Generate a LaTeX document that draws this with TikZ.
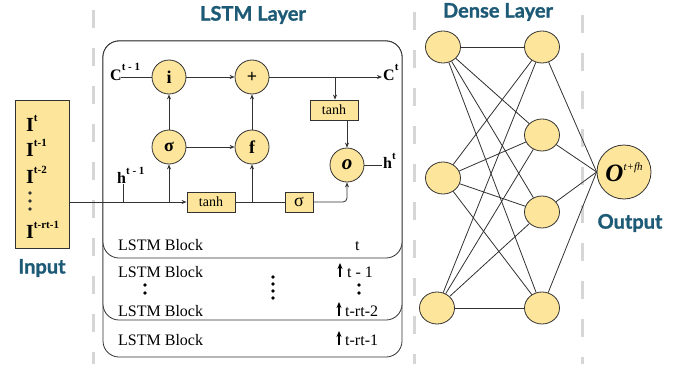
\documentclass[tikz,border=0pt]{standalone}
\usepackage{fontspec}
\setmainfont{Liberation Serif}
\newfontfamily\hdfont{Lato}[BoldFeatures={FakeBold=1.2}]
\usetikzlibrary{arrows.meta,shapes.geometric}
\definecolor{ylw}{RGB}{253,229,155}
\definecolor{tealx}{RGB}{28,90,118}
\definecolor{dgr}{RGB}{50,50,50}
\newcommand\mysup[2][9pt]{\raisebox{#1}{\fontsize{11}{11}\selectfont\bfseries #2}}
\begin{document}
\begin{tikzpicture}[x=1pt,y=-1pt,
  gl/.style={line width=3pt, draw=black!16, dash pattern=on 18pt off 20pt},
  cir/.style={circle, draw=dgr, fill=ylw, line width=0.8pt, minimum size=34pt, inner sep=0pt, font=\fontsize{18}{18}\selectfont\bfseries},
  bx/.style={rectangle, draw=dgr, fill=ylw, line width=0.8pt, minimum height=20pt, inner sep=0pt, font=\fontsize{14}{14}\selectfont},
  arr/.style={-{Stealth[length=5pt,width=4pt]}, line width=0.8pt, draw=dgr},
  arrb/.style={-{Stealth[length=6pt,width=5pt]}, line width=1.3pt, draw=black},
  ln/.style={line width=0.8pt, draw=dgr},
  blk/.style={draw=dgr, line width=0.8pt, fill=white, rounded corners=16pt},
  hd/.style={font=\hdfont\fontsize{20}{20}\selectfont\bfseries, text=tealx},
  bt/.style={font=\fontsize{16}{16}\selectfont, anchor=base west, inner sep=0pt},
  lbl/.style={font=\fontsize{16}{16}\selectfont\bfseries, anchor=base west, inner sep=1pt},
  itx/.style={font=\fontsize{20}{20}\selectfont\bfseries, anchor=base west, inner sep=0pt},
  neu/.style={ellipse, draw=dgr, fill=ylw, line width=0.8pt, minimum width=35pt, minimum height=32pt, inner sep=0pt},
  nl/.style={line width=0.8pt, draw=dgr}
]
\useasboundingbox (0,0) rectangle (693,364);
\fill[white] (0,0) rectangle (693,364);

% dashed separators
\draw[gl] (93,10) -- (93,364);
\draw[gl] (414,12) -- (414,364);
\draw[gl] (582,15) -- (582,364);

% titles
\node[hd] (tl) at (253,15) {LSTM Layer};
\node[hd] (td) at (498,12) {Dense Layer};
\node[hd] (ti) at (42,268) {Input};
\node[hd] (to) at (630,223) {Output};

% input box
\node[draw=dgr, fill=ylw, line width=0.9pt, minimum width=54pt, minimum height=148pt, inner sep=0pt] (inp) at (42,174) {};
\node[itx] (i0) at (26,131) {I\mysup[10pt]{t}};
\node[itx] (i1) at (26,156) {I\mysup[10pt]{t-1}};
\node[itx] (i2) at (26,183) {I\mysup[10pt]{t-2}};
\fill[dgr] (30,193) circle (1.9) (30,201) circle (1.9) (30,209) circle (1.9);
\node[itx] (i3) at (26,238) {I\mysup[10pt]{t-rt-1}};

% LSTM stack
\draw[blk] (103,41) rectangle (402,357);
\draw[blk] (103,41) rectangle (402,320);
\draw[blk] (103,41) rectangle (402,258);

% cell
\node[cir] (ig) at (169,77) {i};
\node[cir] (pl) at (252,77) {+};
\node[cir] (sg) at (169,147) {σ};
\node[cir] (fg) at (252,147) {f};
\node[cir, font=\fontsize{21}{21}\selectfont\bfseries\itshape] (og) at (347,165) {o};
\node[bx, minimum width=48pt] (th1) at (211,202) {tanh};
\node[bx, minimum width=28pt, font=\fontsize{18}{18}\selectfont] (sb) at (299,202) {σ};
\node[bx, minimum width=48pt] (th2) at (334,110) {tanh};

\node[lbl] (cp) at (109,80) {C\mysup[10pt]{t - 1}};
\node[lbl] (cn) at (382,80) {C\mysup[10pt]{t}};
\node[lbl] (hp) at (116,183) {h\mysup[9pt]{t - 1}};
\node[lbl] (hn) at (382,168) {h\mysup[9pt]{t}};

\coordinate (cin) at (121,77);
\coordinate (jn) at (123,202);
\coordinate (br) at (335,77);
\draw[ln] (cin) -- (ig);
\draw[arr] (ig) -- (pl);
\draw[arr] (pl) -- (cn.west |- pl);
\draw[arr] (br) -- (br |- th2.north);
\draw[arr] (th2.south -| og) -- (og.north);
\draw[ln] (og) -- (hn.west |- og);
\draw[arr] (sg) -- (ig);
\draw[arr] (sg) -- (fg);
\draw[arr] (fg) -- (pl);
\draw[ln] (jn |- hp.south) -- (jn);
\draw[arr, line width=1pt] (inp.east |- jn) -- (th1.west);
\draw[arr] (sg |- th1) -- (sg.south);
\draw[ln] (th1.east) -- (sb.west);
\draw[arr] (fg |- th1) -- (fg.south);
\draw[arr, rounded corners=4pt] (sb.east) -- (og |- sb) -- (og.south);

% blocks
\node[bt] (b1) at (118,250) {LSTM Block};
\node[bt] (b2) at (118,277) {LSTM Block};
\node[bt] (b3) at (118,316) {LSTM Block};
\node[bt] (b4) at (118,345) {LSTM Block};
\node[bt] (t0) at (355,250) {t};
\node[bt] (t1) at (347,277) {t - 1};
\node[bt] (t2) at (345,316) {t-rt-2};
\node[bt] (t3) at (345,345) {t-rt-1};
\draw[arrb] ([xshift=-7pt]t1.base west) -- ++(0,-14);
\draw[arrb] ([xshift=-6pt]t2.base west) -- ++(0,-14);
\draw[arrb] ([xshift=-6pt]t3.base west) -- ++(0,-14);
\fill[black] (145,285) circle (1.8) (145,293) circle (1.8);
\fill[black] (359,285) circle (1.8) (359,293) circle (1.8);
\fill[black] (273,277) circle (1.8) (273,284) circle (1.8) (273,291) circle (1.8) (273,298) circle (1.8);

% dense layer
\node[neu] (a1) at (443,47) {};
\node[neu] (a2) at (443,178) {};
\node[neu] (a3) at (437,308) {};
\node[neu] (b1n) at (542,47) {};
\node[neu] (b2n) at (542,135) {};
\node[neu] (b3n) at (542,212) {};
\node[neu] (b4n) at (542,308) {};
\node[circle, draw=dgr, fill=ylw, line width=0.8pt, minimum size=54pt, inner sep=0pt] (out) at (624,172)
  {\fontsize{25}{25}\selectfont\bfseries\itshape O\raisebox{11pt}{\fontsize{11}{11}\selectfont\mdseries\itshape t+fh}};
\foreach \a in {a1,a2,a3}{
  \foreach \b in {b1n,b2n,b3n,b4n}{
    \draw[nl] (\a) -- (\b);
  }
}
\foreach \b in {b1n,b2n,b3n,b4n}{
  \draw[nl] (\b) -- (out.west);
}
\end{tikzpicture}
\end{document}
